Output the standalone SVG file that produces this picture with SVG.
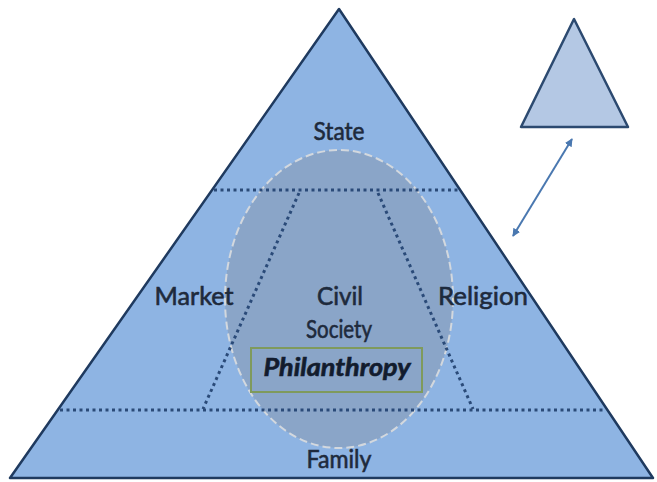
<svg xmlns="http://www.w3.org/2000/svg" width="657" height="482" viewBox="0 0 657 482">
<style>
.lbl{font-family:Lato,"Liberation Sans",sans-serif;font-size:25px;fill:#1e2a3c;stroke:#1e2a3c;stroke-width:0.6;text-anchor:middle}
.dots{stroke:#2a4a78;stroke-width:3;stroke-dasharray:3 3.5;fill:none}
</style>
<defs>
<marker id="ah" viewBox="0 0 10 10" refX="9" refY="5" markerWidth="4" markerHeight="4" orient="auto-start-reverse">
<path d="M0,0 L10,5 L0,10 z" fill="#4a78b0"/>
</marker>
</defs>
<rect width="657" height="482" fill="#ffffff"/>
<g id="pyramid">
<polygon points="339,9 10,478 653,478" fill="#8eb4e3" stroke="#1f3a5f" stroke-width="2.5" stroke-linejoin="round"/>
</g>
<g id="civil-society-ellipse">
<ellipse cx="339" cy="299" rx="114" ry="149" fill="#8aa5c8" stroke="#d3d8de" stroke-width="2" stroke-dasharray="8 4"/>
</g>
<g id="connectors">
<line class="dots" x1="214" y1="190" x2="459" y2="190"/>
<line class="dots" x1="60" y1="410" x2="606" y2="410"/>
<line class="dots" x1="299" y1="193" x2="203" y2="409"/>
<line class="dots" x1="378" y1="193" x2="473" y2="409"/>
<line x1="572" y1="139" x2="513" y2="236" stroke="#4a78b0" stroke-width="2" marker-start="url(#ah)" marker-end="url(#ah)"/>
</g>
<g id="small-triangle">
<polygon points="574,19 521,127 628,127" fill="#b4c8e4" stroke="#2c4a70" stroke-width="2.5" stroke-linejoin="round"/>
</g>
<g id="state"><text class="lbl" x="339" y="140" textLength="51" lengthAdjust="spacingAndGlyphs">State</text></g>
<g id="market"><text class="lbl" x="194" y="305" textLength="79" lengthAdjust="spacingAndGlyphs">Market</text></g>
<g id="religion"><text class="lbl" x="483" y="305" textLength="90" lengthAdjust="spacingAndGlyphs">Religion</text></g>
<g id="civil-society">
<text class="lbl" x="340" y="305" textLength="46" lengthAdjust="spacingAndGlyphs">Civil</text>
<text class="lbl" x="339" y="338" textLength="66" lengthAdjust="spacingAndGlyphs">Society</text>
</g>
<g id="philanthropy">
<rect x="251" y="348" width="171" height="44" fill="none" stroke="#7f9a5c" stroke-width="2"/>
<text class="lbl" x="337" y="376" style="font-weight:bold;font-style:italic;fill:#121c2e;stroke:#121c2e" textLength="147" lengthAdjust="spacingAndGlyphs">Philanthropy</text>
</g>
<g id="family"><text class="lbl" x="339" y="468" textLength="65" lengthAdjust="spacingAndGlyphs">Family</text></g>
</svg>
